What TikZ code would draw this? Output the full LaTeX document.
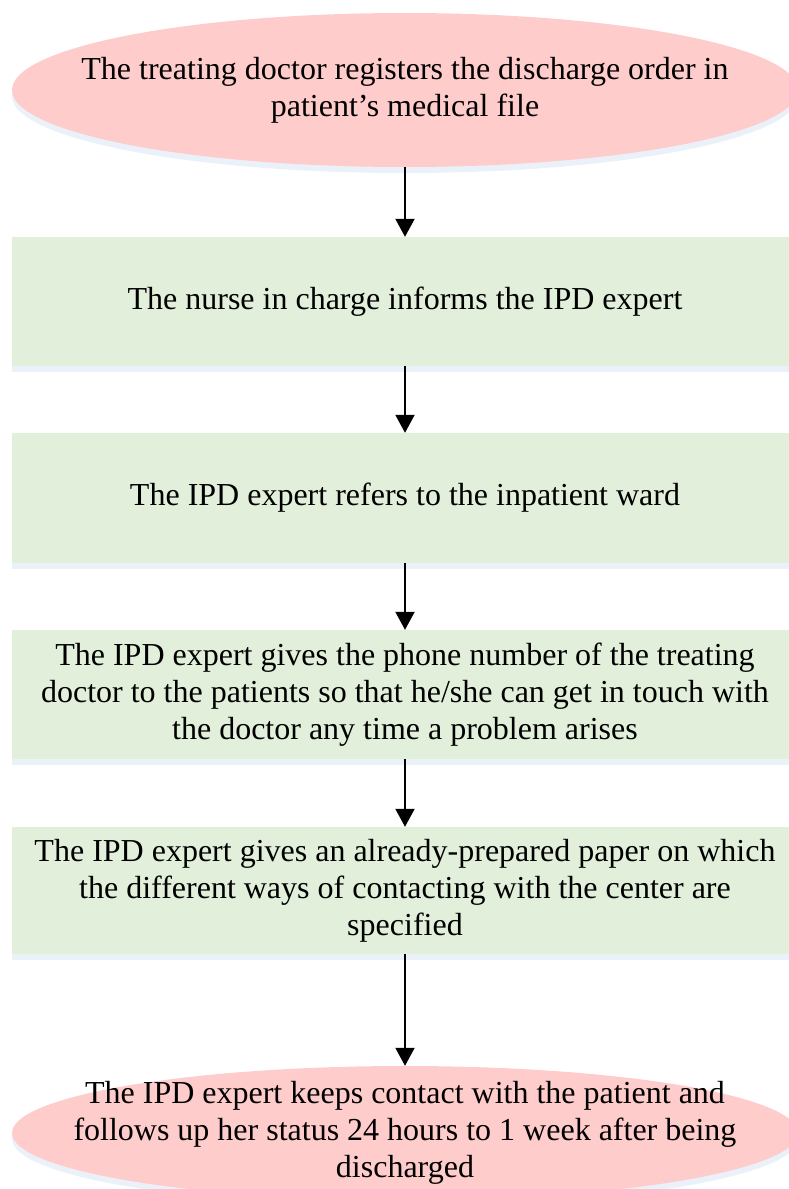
\documentclass[tikz,border=0pt]{standalone}
\usepackage{fontspec}
\setmainfont{Liberation Serif}
\usepackage{tikz}
\usetikzlibrary{shapes.geometric,shadows,arrows.meta}
\definecolor{endpink}{RGB}{255,204,204}
\definecolor{stepgreen}{RGB}{226,239,218}
\definecolor{shadowblue}{RGB}{214,228,244}

\begin{document}
\begin{tikzpicture}[x=1pt,y=-1pt,
        every node/.style={font=\fontsize{32}{37}\selectfont, align=center, inner sep=0pt},
        endpoint/.style={ellipse, fill=endpink, minimum width=786pt,
            drop shadow={fill=shadowblue, shadow xshift=0pt, shadow yshift=-6pt}},
        stepbox/.style={rectangle, fill=stepgreen, minimum width=786pt,
            drop shadow={fill=shadowblue, shadow xshift=0pt, shadow yshift=-6pt}},
        flow/.style={line width=2pt, -{Triangle[width=19pt,length=18pt]}}]
            \useasboundingbox (0,0) rectangle (788,1189);
            % the ellipses keep their size, the text is laid on top
            \node [endpoint, minimum height=154pt, label={center:{The treating doctor registers the discharge order in\\patient’s medical file}}] (order) at (405,90) {};
            \node [stepbox, minimum height=129pt] (nurse) at (405,301.5)
                {The nurse in charge informs the IPD expert};
            \node [stepbox, minimum height=130pt] (ward) at (405,498)
                {The IPD expert refers to the inpatient ward};
            \node [stepbox, minimum height=129pt] (phone) at (405,694.5)
                {The IPD expert gives the phone number of the treating\\doctor to the patients so that he/she can get in touch with\\the doctor any time a problem arises};
            \node [stepbox, minimum height=127pt] (paper) at (405,890.5)
                {The IPD expert gives an already-prepared paper on which\\the different ways of contacting with the center are\\specified};
            \node [endpoint, minimum height=134pt, label={center:{The IPD expert keeps contact with the patient and\\follows up her status 24 hours to 1 week after being\\discharged}}] (follow) at (405,1133) {};
            \draw [flow] (order) -- (nurse);
            \draw [flow] (nurse) -- (ward);
            \draw [flow] (ward) -- (phone);
            \draw [flow] (phone) -- (paper);
            \draw [flow] (paper) -- (follow);
        \end{tikzpicture}
\end{document}
